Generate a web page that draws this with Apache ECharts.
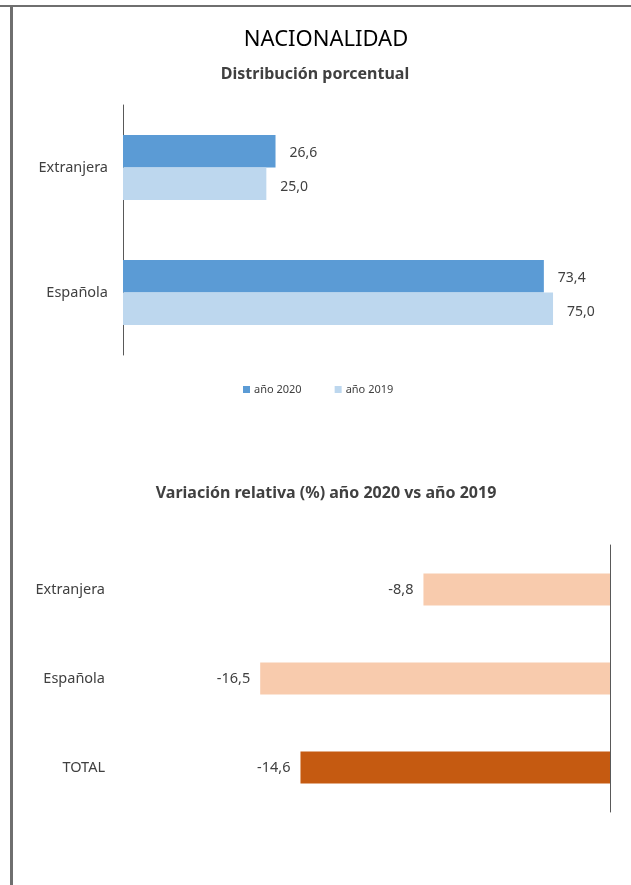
<!DOCTYPE html>
<html>
<head>
<meta charset="utf-8">
<script src="https://cdn.jsdelivr.net/npm/echarts@6/dist/echarts.min.js"></script>
<style>
  html, body { margin: 0; padding: 0; background: #fff; }
  #chart { width: 631px; height: 885px; }
</style>
</head>
<body>
<div id="chart"></div>
<script>
// distribución porcentual
const categoriasDist = ['Extranjera', 'Española']
const valores2020 = [26.6, 73.4]
const valores2019 = [25.0, 75.0]
// variación relativa
const categoriasVar = ['Extranjera', 'Española', 'TOTAL']
const variacion = [-8.8, -16.5, -14.6]

const fmt = v => v.toFixed(1).replace('.', ',')
const txt = '#404040'
const fuente = 'Noto Sans'

const chart = echarts.init(document.getElementById('chart'))

const option = {
  backgroundColor: '#fff',
  textStyle: { fontFamily: fuente },
  title: [
    {
      text: 'NACIONALIDAD', left: 321, top: 24, textAlign: 'center',
      textStyle: { fontSize: 22, fontWeight: 'normal', color: '#000', fontFamily: fuente }
    },
    {
      text: 'Distribución porcentual', left: 310, top: 61, textAlign: 'center',
      textStyle: { fontSize: 16, fontWeight: 'bold', color: txt, fontFamily: fuente }
    },
    {
      text: 'Variación relativa (%) año 2020 vs año 2019', left: 321, top: 480, textAlign: 'center',
      textStyle: { fontSize: 16, fontWeight: 'bold', color: txt, fontFamily: fuente }
    }
  ],
  legend: {
    data: ['año 2020', 'año 2019'],
    left: 238, top: 379,
    icon: 'rect', itemWidth: 7, itemHeight: 7, itemGap: 33,
    textStyle: { fontSize: 11, color: txt, padding: [0, 0, 0, -1] }
  },
  grid: [
    { left: 123, top: 105, height: 250, right: 49.3 },
    { left: 186, top: 545, height: 267, right: 21 }
  ],
  xAxis: [
    { gridIndex: 0, type: 'value', min: 0, max: 80, show: false },
    { gridIndex: 1, type: 'value', min: -20, max: 0, show: false }
  ],
  yAxis: [
    {
      gridIndex: 0, type: 'category', inverse: true, data: categoriasDist,
      axisLine: { lineStyle: { color: '#595959', width: 1 } },
      axisTick: { show: false },
      axisLabel: { color: txt, fontSize: 14.5, margin: 15 }
    },
    {
      gridIndex: 1, type: 'category', inverse: true, position: 'left', data: categoriasVar,
      axisLine: { show: false }, axisTick: { show: false },
      axisLabel: { color: txt, fontSize: 14.5, margin: 81 }
    },
    {
      gridIndex: 1, type: 'category', inverse: true, position: 'right', data: categoriasVar,
      axisLine: { show: true, lineStyle: { color: '#595959', width: 1 } },
      axisTick: { show: false }, axisLabel: { show: false }
    }
  ],
  series: [
    {
      name: 'año 2020', type: 'bar', xAxisIndex: 0, yAxisIndex: 0,
      data: valores2020, barGap: '0%', barCategoryGap: '48%',
      itemStyle: { color: '#5B9BD5' },
      label: { show: true, position: 'right', distance: 14, offset: [0, 2], color: txt, fontSize: 14, formatter: p => fmt(p.value) }
    },
    {
      name: 'año 2019', type: 'bar', xAxisIndex: 0, yAxisIndex: 0,
      data: valores2019, barGap: '0%', barCategoryGap: '48%',
      itemStyle: { color: '#BDD7EE' },
      label: { show: true, position: 'right', distance: 14, offset: [0, 3], color: txt, fontSize: 14, formatter: p => fmt(p.value) }
    },
    {
      name: 'variación', type: 'bar', xAxisIndex: 1, yAxisIndex: 1,
      data: variacion.map((v, i) => ({
        value: v,
        itemStyle: { color: categoriasVar[i] === 'TOTAL' ? '#C55A11' : '#F8CBAD' }
      })),
      barWidth: 32,
      label: { show: true, position: 'left', distance: 10, color: txt, fontSize: 14.5, formatter: p => fmt(p.value) }
    }
  ],
  graphic: [
    { type: 'line', shape: { x1: 0, y1: 6, x2: 631, y2: 6 }, style: { stroke: '#6f6f6f', lineWidth: 2 } },
    { type: 'line', shape: { x1: 11.5, y1: 6, x2: 11.5, y2: 885 }, style: { stroke: '#6f6f6f', lineWidth: 3 } }
  ]
}

chart.setOption(option)
</script>
</body>
</html>
